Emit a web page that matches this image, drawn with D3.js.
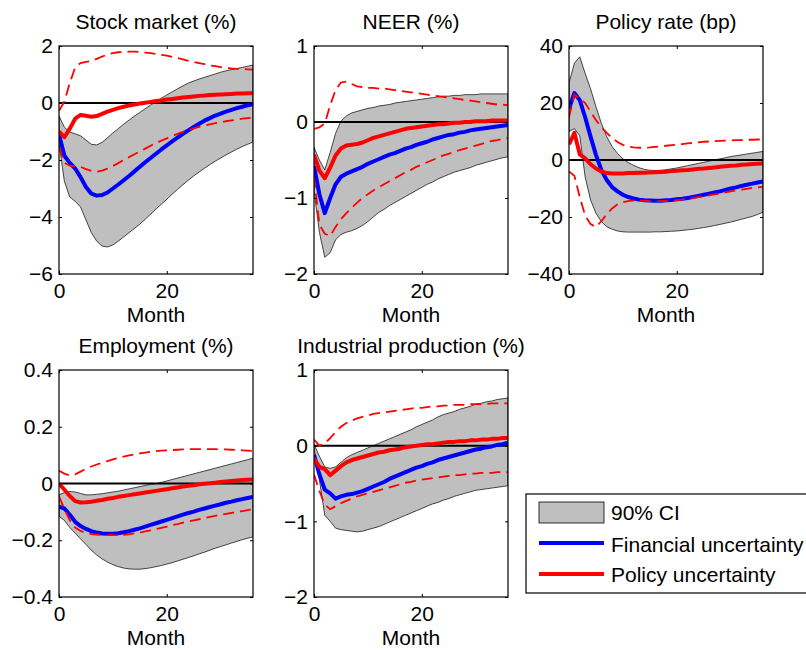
<!DOCTYPE html>
<html>
<head>
<meta charset="utf-8">
<script src="https://cdn.jsdelivr.net/npm/d3@7"></script>
<style>
  html, body { margin: 0; padding: 0; background: #ffffff; }
  svg { display: block; font-family: "Liberation Sans", Arial, Helvetica, sans-serif; }
</style>
</head>
<body>
<div id="chart"></div>
<script>
// Impulse responses, months 0..36
const months = d3.range(0, 37);

// Stock market (%)
const stockCiUpper = [-0.45,-0.85,-1.02,-1.08,-1.15,-1.3,-1.45,-1.47,-1.38,-1.22,-1.05,-0.9,-0.74,-0.6,-0.46,-0.33,-0.2,-0.07,0.05,0.17,0.28,0.39,0.5,0.6,0.7,0.77,0.84,0.9,0.96,1.02,1.08,1.13,1.17,1.21,1.25,1.29,1.33];
const stockCiLower = [-1.4,-2.75,-3.3,-3.45,-3.65,-4.1,-4.55,-4.85,-5.02,-5.05,-4.98,-4.85,-4.7,-4.55,-4.4,-4.25,-4.08,-3.9,-3.72,-3.55,-3.38,-3.2,-3.03,-2.87,-2.71,-2.56,-2.42,-2.29,-2.16,-2.04,-1.93,-1.82,-1.72,-1.62,-1.53,-1.45,-1.37];
const stockFin = [-1.1,-1.85,-2.1,-2.3,-2.6,-2.95,-3.18,-3.25,-3.23,-3.14,-3.0,-2.86,-2.71,-2.56,-2.4,-2.24,-2.08,-1.93,-1.78,-1.63,-1.49,-1.35,-1.21,-1.08,-0.96,-0.84,-0.73,-0.62,-0.53,-0.44,-0.37,-0.3,-0.24,-0.18,-0.13,-0.08,-0.04];
const stockPol = [-1.0,-1.2,-0.9,-0.55,-0.42,-0.45,-0.48,-0.46,-0.38,-0.3,-0.24,-0.18,-0.13,-0.09,-0.05,-0.02,0.01,0.04,0.07,0.09,0.12,0.14,0.17,0.19,0.21,0.23,0.25,0.26,0.28,0.29,0.3,0.31,0.32,0.33,0.33,0.34,0.34];
const stockPolUpper = [-0.27,0.05,0.7,1.25,1.4,1.44,1.47,1.55,1.63,1.7,1.75,1.78,1.79,1.8,1.8,1.79,1.77,1.75,1.72,1.69,1.66,1.62,1.58,1.53,1.48,1.44,1.4,1.36,1.32,1.29,1.26,1.23,1.21,1.2,1.19,1.18,1.17];
const stockPolLower = [-1.55,-2.1,-2.2,-2.22,-2.24,-2.32,-2.38,-2.41,-2.37,-2.3,-2.21,-2.11,-2.0,-1.9,-1.8,-1.7,-1.6,-1.5,-1.41,-1.32,-1.24,-1.16,-1.08,-1.01,-0.95,-0.89,-0.84,-0.79,-0.75,-0.71,-0.68,-0.64,-0.61,-0.58,-0.55,-0.53,-0.51];

// NEER (%)
const neerCiUpper = [-0.33,-0.5,-0.63,-0.4,-0.15,0.01,0.08,0.12,0.14,0.16,0.18,0.19,0.21,0.22,0.23,0.25,0.26,0.27,0.28,0.29,0.3,0.31,0.32,0.33,0.34,0.34,0.35,0.35,0.36,0.36,0.36,0.37,0.37,0.37,0.37,0.37,0.37];
const neerCiLower = [-0.9,-1.45,-1.78,-1.72,-1.55,-1.48,-1.45,-1.43,-1.4,-1.36,-1.31,-1.25,-1.19,-1.15,-1.1,-1.06,-1.02,-0.98,-0.94,-0.9,-0.86,-0.82,-0.79,-0.75,-0.72,-0.69,-0.66,-0.64,-0.62,-0.6,-0.57,-0.55,-0.53,-0.51,-0.49,-0.47,-0.46];
const neerFin = [-0.58,-0.95,-1.2,-1.0,-0.82,-0.72,-0.68,-0.65,-0.62,-0.59,-0.55,-0.52,-0.49,-0.46,-0.43,-0.41,-0.38,-0.35,-0.33,-0.3,-0.28,-0.26,-0.23,-0.21,-0.19,-0.17,-0.16,-0.14,-0.13,-0.11,-0.1,-0.09,-0.08,-0.07,-0.06,-0.05,-0.04];
const neerPol = [-0.43,-0.64,-0.74,-0.6,-0.44,-0.35,-0.31,-0.3,-0.29,-0.27,-0.24,-0.21,-0.19,-0.17,-0.15,-0.13,-0.11,-0.09,-0.08,-0.07,-0.06,-0.05,-0.04,-0.03,-0.03,-0.02,-0.01,-0.01,0,0,0.01,0.01,0.01,0.02,0.02,0.02,0.02];
const neerPolUpper = [-0.09,-0.07,-0.02,0.22,0.42,0.52,0.53,0.5,0.47,0.46,0.45,0.45,0.44,0.44,0.43,0.42,0.41,0.4,0.39,0.38,0.37,0.36,0.35,0.34,0.33,0.32,0.31,0.3,0.29,0.28,0.27,0.26,0.25,0.24,0.23,0.23,0.22];
const neerPolLower = [-0.72,-1.35,-1.47,-1.5,-1.38,-1.28,-1.2,-1.13,-1.06,-1.0,-0.95,-0.9,-0.86,-0.82,-0.78,-0.74,-0.7,-0.66,-0.63,-0.59,-0.56,-0.53,-0.5,-0.47,-0.44,-0.42,-0.39,-0.37,-0.35,-0.33,-0.31,-0.29,-0.27,-0.25,-0.24,-0.22,-0.21];

// Policy rate (bp)
const rateCiUpper = [27,34,36.2,30.4,25,18.7,12.9,8.2,4.7,2.3,0.4,-0.9,-1.9,-2.7,-3.3,-3.6,-3.7,-3.6,-3.4,-3.1,-2.8,-2.4,-2.0,-1.6,-1.2,-0.8,-0.4,0,0.4,0.8,1.2,1.5,1.8,2.1,2.4,2.7,3.0];
const rateCiLower = [10,11,8.5,-6,-14,-18.7,-21.6,-23.4,-24.3,-24.9,-25.2,-25.3,-25.3,-25.3,-25.3,-25.3,-25.2,-25.2,-25.1,-25.0,-24.9,-24.7,-24.5,-24.3,-24.0,-23.7,-23.4,-23.0,-22.6,-22.2,-21.8,-21.3,-20.8,-20.3,-19.8,-19.1,-18.3];
const rateFin = [18,23.5,21,15,8.2,1.8,-3.5,-7,-9.5,-11,-12.2,-13,-13.5,-13.9,-14.1,-14.2,-14.3,-14.3,-14.1,-14.0,-13.8,-13.6,-13.3,-13.0,-12.6,-12.2,-11.8,-11.4,-11.0,-10.5,-10.0,-9.6,-9.1,-8.7,-8.3,-7.9,-7.5];
const ratePol = [5.5,9.5,2,0.6,-1.5,-3,-4,-4.6,-4.7,-4.7,-4.7,-4.6,-4.6,-4.5,-4.5,-4.4,-4.3,-4.2,-4.1,-3.9,-3.8,-3.6,-3.5,-3.3,-3.1,-3.0,-2.8,-2.6,-2.4,-2.2,-2.0,-1.9,-1.7,-1.6,-1.4,-1.3,-1.2];
const ratePolUpper = [15,23,21.5,20,17,14,11.5,9.5,7.7,6.3,5.3,4.7,4.4,4.3,4.3,4.4,4.6,4.8,5.0,5.2,5.4,5.6,5.8,6.0,6.2,6.4,6.5,6.6,6.7,6.8,6.9,7.0,7.0,7.1,7.1,7.2,7.2];
const ratePolLower = [-4,-5.5,-13,-19.5,-22.5,-23.5,-21.5,-19,-17,-15.5,-14.8,-14.4,-14.2,-14.3,-14.3,-14.4,-14.4,-14.4,-14.3,-14.2,-14.1,-13.9,-13.6,-13.3,-13.0,-12.7,-12.4,-12.1,-11.8,-11.4,-11.0,-10.7,-10.4,-10.1,-9.8,-9.6,-9.4];

// Employment (%)
const empCiUpper = [-0.04,-0.032,-0.028,-0.03,-0.035,-0.04,-0.04,-0.038,-0.036,-0.033,-0.03,-0.027,-0.023,-0.019,-0.015,-0.011,-0.007,-0.003,0.0,0.004,0.009,0.014,0.019,0.024,0.029,0.034,0.039,0.044,0.049,0.054,0.059,0.064,0.069,0.074,0.079,0.084,0.089];
const empCiLower = [-0.115,-0.13,-0.155,-0.175,-0.195,-0.215,-0.235,-0.252,-0.266,-0.277,-0.286,-0.293,-0.298,-0.301,-0.302,-0.302,-0.3,-0.297,-0.293,-0.289,-0.284,-0.279,-0.273,-0.267,-0.261,-0.255,-0.248,-0.242,-0.235,-0.228,-0.222,-0.216,-0.21,-0.204,-0.198,-0.193,-0.188];
const empFin = [-0.082,-0.088,-0.11,-0.135,-0.15,-0.16,-0.168,-0.173,-0.176,-0.177,-0.177,-0.175,-0.172,-0.168,-0.163,-0.158,-0.152,-0.146,-0.14,-0.134,-0.128,-0.122,-0.116,-0.11,-0.104,-0.099,-0.093,-0.088,-0.083,-0.078,-0.073,-0.068,-0.064,-0.059,-0.055,-0.051,-0.047];
const empPol = [0,-0.022,-0.044,-0.062,-0.067,-0.066,-0.064,-0.061,-0.058,-0.054,-0.051,-0.047,-0.044,-0.041,-0.038,-0.035,-0.032,-0.029,-0.026,-0.023,-0.02,-0.017,-0.014,-0.011,-0.008,-0.006,-0.003,-0.001,0.001,0.003,0.005,0.007,0.009,0.011,0.012,0.013,0.014];
const empPolUpper = [0.045,0.035,0.028,0.032,0.042,0.052,0.06,0.067,0.073,0.079,0.085,0.09,0.095,0.099,0.103,0.106,0.109,0.112,0.114,0.116,0.117,0.118,0.119,0.12,0.121,0.121,0.121,0.121,0.121,0.121,0.12,0.12,0.119,0.118,0.117,0.116,0.115];
const empPolLower = [-0.045,-0.09,-0.13,-0.155,-0.167,-0.174,-0.178,-0.18,-0.181,-0.182,-0.182,-0.182,-0.181,-0.179,-0.176,-0.173,-0.169,-0.165,-0.161,-0.156,-0.152,-0.147,-0.143,-0.138,-0.134,-0.13,-0.126,-0.122,-0.118,-0.114,-0.11,-0.107,-0.104,-0.1,-0.097,-0.094,-0.091];

// Industrial production (%)
const ipCiUpper = [0.02,-0.14,-0.28,-0.3,-0.28,-0.22,-0.16,-0.12,-0.09,-0.06,-0.03,0.0,0.03,0.06,0.09,0.12,0.15,0.18,0.21,0.25,0.28,0.31,0.34,0.38,0.41,0.43,0.45,0.48,0.5,0.52,0.55,0.56,0.58,0.59,0.61,0.62,0.63];
const ipCiLower = [-0.03,-0.45,-0.92,-1.0,-1.09,-1.11,-1.12,-1.13,-1.14,-1.13,-1.11,-1.09,-1.07,-1.04,-1.01,-0.98,-0.95,-0.92,-0.89,-0.86,-0.83,-0.8,-0.77,-0.75,-0.72,-0.7,-0.67,-0.65,-0.63,-0.61,-0.59,-0.58,-0.57,-0.56,-0.55,-0.54,-0.53];
const ipFin = [-0.12,-0.38,-0.58,-0.63,-0.7,-0.67,-0.65,-0.64,-0.62,-0.6,-0.57,-0.54,-0.51,-0.48,-0.44,-0.41,-0.38,-0.35,-0.32,-0.29,-0.27,-0.24,-0.22,-0.19,-0.17,-0.15,-0.13,-0.11,-0.09,-0.07,-0.05,-0.04,-0.02,-0.01,0.01,0.02,0.04];
const ipPol = [-0.17,-0.28,-0.31,-0.39,-0.33,-0.27,-0.22,-0.19,-0.17,-0.15,-0.13,-0.11,-0.09,-0.08,-0.06,-0.05,-0.04,-0.02,-0.01,0.0,0.01,0.02,0.02,0.03,0.04,0.05,0.05,0.06,0.06,0.07,0.07,0.08,0.08,0.09,0.09,0.1,0.1];
const ipPolUpper = [0.08,0.0,0.03,0.1,0.18,0.25,0.3,0.33,0.36,0.38,0.4,0.42,0.43,0.44,0.45,0.46,0.47,0.48,0.49,0.5,0.5,0.51,0.52,0.52,0.53,0.53,0.54,0.54,0.54,0.55,0.55,0.55,0.55,0.56,0.56,0.56,0.56];
const ipPolLower = [-0.38,-0.6,-0.78,-0.84,-0.8,-0.76,-0.73,-0.7,-0.67,-0.65,-0.63,-0.61,-0.59,-0.57,-0.55,-0.53,-0.51,-0.49,-0.48,-0.46,-0.45,-0.44,-0.43,-0.42,-0.41,-0.4,-0.39,-0.39,-0.38,-0.37,-0.37,-0.36,-0.36,-0.36,-0.35,-0.35,-0.35];

// Panel titles and y-axis settings
const titles = ["Stock market (%)", "NEER (%)", "Policy rate (bp)", "Employment (%)", "Industrial production (%)"];
const yDomains = [[-6, 2], [-2, 1], [-40, 40], [-0.4, 0.4], [-2, 1]];
const yTickValues = [[-6, -4, -2, 0, 2], [-2, -1, 0, 1], [-40, -20, 0, 20, 40], [-0.4, -0.2, 0, 0.2, 0.4], [-2, -1, 0, 1]];
const xTickValues = [0, 20];
const legendLabels = ["90% CI", "Financial uncertainty", "Policy uncertainty"];

const panels = [
  { ciLower: stockCiLower, ciUpper: stockCiUpper, fin: stockFin, pol: stockPol, polLower: stockPolLower, polUpper: stockPolUpper },
  { ciLower: neerCiLower, ciUpper: neerCiUpper, fin: neerFin, pol: neerPol, polLower: neerPolLower, polUpper: neerPolUpper },
  { ciLower: rateCiLower, ciUpper: rateCiUpper, fin: rateFin, pol: ratePol, polLower: ratePolLower, polUpper: ratePolUpper },
  { ciLower: empCiLower, ciUpper: empCiUpper, fin: empFin, pol: empPol, polLower: empPolLower, polUpper: empPolUpper },
  { ciLower: ipCiLower, ciUpper: ipCiUpper, fin: ipFin, pol: ipPol, polLower: ipPolLower, polUpper: ipPolUpper }
];

// Layout
const W = 806, H = 650;
const colLeft = [59, 314, 569];
const rowTop = [46, 370];
const rowHeight = [228, 227];
const plotW = 194;
const FONT = 21;
const BAND = "#bfbfbf";
const BLUE = "#0000ff";
const RED = "#ff0000";

const svg = d3.select("#chart").append("svg")
  .attr("width", W).attr("height", H)
  .attr("viewBox", `0 0 ${W} ${H}`);
svg.append("rect").attr("width", W).attr("height", H).attr("fill", "#ffffff");

const fmtTick = v => {
  if (v === 0) return "0";
  return Number.isInteger(v) ? d3.format("d")(v) : d3.format(".1f")(v);
};

panels.forEach((p, k) => {
  const col = k % 3, row = Math.floor(k / 3);
  const h = rowHeight[row];
  const g = svg.append("g").attr("transform", `translate(${colLeft[col]},${rowTop[row]})`);

  const x = d3.scaleLinear().domain([0, 36]).range([0, plotW]);
  const y = d3.scaleLinear().domain(yDomains[k]).range([h, 0]);

  const clipId = `clip${k}`;
  g.append("clipPath").attr("id", clipId)
    .append("rect").attr("x", 0).attr("y", 0).attr("width", plotW).attr("height", h);
  const plot = g.append("g").attr("clip-path", `url(#${clipId})`);

  // Confidence band of the financial-uncertainty response
  plot.append("path").datum(months)
    .attr("d", d3.area().x(i => x(months[i])).y0(i => y(p.ciLower[i])).y1(i => y(p.ciUpper[i])))
    .attr("fill", BAND).attr("stroke", "#000").attr("stroke-width", 0.7);

  // Zero line
  plot.append("line")
    .attr("x1", x(0)).attr("x2", x(36)).attr("y1", y(0)).attr("y2", y(0))
    .attr("stroke", "#000").attr("stroke-width", 2);

  const line = arr => d3.line().x(i => x(months[i])).y(i => y(arr[i]))(months);

  plot.append("path").attr("d", line(p.fin))
    .attr("fill", "none").attr("stroke", BLUE).attr("stroke-width", 4)
    .attr("stroke-linejoin", "round");
  plot.append("path").attr("d", line(p.pol))
    .attr("fill", "none").attr("stroke", RED).attr("stroke-width", 4)
    .attr("stroke-linejoin", "round");
  [p.polUpper, p.polLower].forEach(arr => {
    plot.append("path").attr("d", line(arr))
      .attr("fill", "none").attr("stroke", RED).attr("stroke-width", 1.8)
      .attr("stroke-dasharray", "11,6");
  });

  // Axes with inward ticks on all four sides
  const styleAxis = sel => {
    sel.select(".domain").remove();
    sel.selectAll(".tick line").attr("stroke", "#000").attr("stroke-width", 1);
    sel.selectAll("text").attr("font-size", FONT).attr("fill", "#000")
      .attr("font-family", "'Liberation Sans', Arial, Helvetica, sans-serif");
  };
  g.append("g")
    .call(d3.axisLeft(y).tickValues(yTickValues[k]).tickFormat(fmtTick).tickSize(-3).tickPadding(6))
    .call(styleAxis);
  g.append("g").attr("transform", `translate(${plotW},0)`)
    .call(d3.axisRight(y).tickValues(yTickValues[k]).tickFormat("").tickSize(-3))
    .call(styleAxis);
  g.append("g").attr("transform", `translate(0,${h})`)
    .call(d3.axisBottom(x).tickValues(xTickValues).tickFormat(d3.format("d")).tickSize(-3).tickPadding(9))
    .call(styleAxis);
  g.append("g")
    .call(d3.axisTop(x).tickValues(xTickValues).tickFormat("").tickSize(-3))
    .call(styleAxis);

  // Frame
  g.append("rect").attr("x", 0).attr("y", 0).attr("width", plotW).attr("height", h)
    .attr("fill", "none").attr("stroke", "#000").attr("stroke-width", 1.2);

  // Title and x label
  g.append("text").attr("x", plotW / 2).attr("y", -17)
    .attr("text-anchor", "middle").attr("font-size", FONT).attr("fill", "#000")
    .text(titles[k]);
  g.append("text").attr("x", plotW / 2).attr("y", h + 48)
    .attr("text-anchor", "middle").attr("font-size", FONT).attr("fill", "#000")
    .text("Month");
});

// Legend
const lg = svg.append("g").attr("transform", "translate(526,494)");
lg.append("rect").attr("x", 0).attr("y", 0).attr("width", 320).attr("height", 99)
  .attr("fill", "#ffffff").attr("stroke", "#000").attr("stroke-width", 1.2);
lg.append("rect").attr("x", 13).attr("y", 8).attr("width", 65).attr("height", 21)
  .attr("fill", BAND).attr("stroke", "#000").attr("stroke-width", 0.8);
lg.append("line").attr("x1", 13).attr("x2", 78).attr("y1", 49).attr("y2", 49)
  .attr("stroke", BLUE).attr("stroke-width", 4);
lg.append("line").attr("x1", 13).attr("x2", 78).attr("y1", 80).attr("y2", 80)
  .attr("stroke", RED).attr("stroke-width", 4);
[26, 58, 88].forEach((yy, i) => {
  lg.append("text").attr("x", 85).attr("y", yy)
    .attr("font-size", FONT).attr("fill", "#000").text(legendLabels[i]);
});
</script>
</body>
</html>
